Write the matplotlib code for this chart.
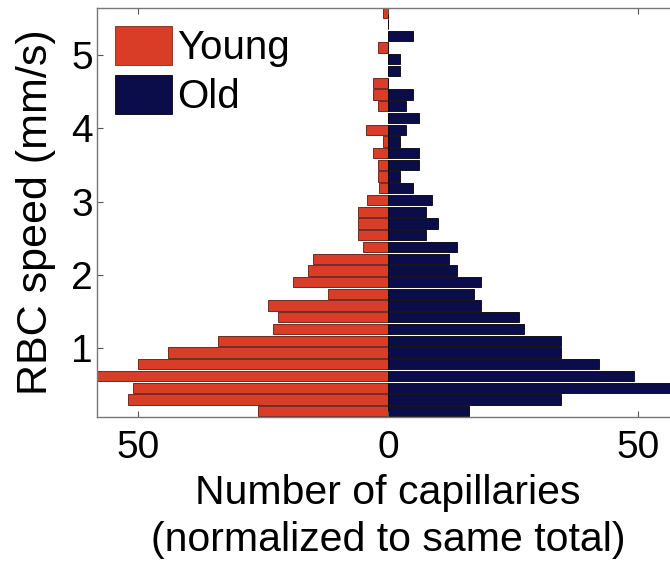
import matplotlib
matplotlib.use("Agg")
import matplotlib.pyplot as plt
from matplotlib.patches import Patch

plt.rcParams['font.family'] = ['Liberation Sans', 'DejaVu Sans']

# RBC speed bin centres (mm/s), bottom to top
speed = [0.14, 0.30, 0.46, 0.62, 0.78, 0.94, 1.10, 1.26, 1.42, 1.58,
         1.74, 1.90, 2.06, 2.22, 2.38, 2.54, 2.70, 2.86, 3.02, 3.18,
         3.34, 3.50, 3.66, 3.82, 3.98, 4.14, 4.30, 4.46, 4.62, 4.78,
         4.94, 5.10, 5.26, 5.42, 5.58]
young = [26, 52, 51, 60, 50, 44, 34, 23, 22, 24,
         12, 19, 16, 15, 5, 6, 6, 6, 4.2, 1.8,
         2, 2, 3, 1, 4.3, 0, 2, 3, 3, 0,
         0, 2, 0, 0, 1]
old = [16.2, 34.7, 58, 49.3, 42.3, 34.7, 34.7, 27.3, 26.3, 18.7,
       17.3, 18.7, 13.8, 12.2, 13.8, 7.6, 10, 7.6, 8.8, 5,
       2.4, 6.2, 6.2, 2.4, 3.7, 6.3, 3.7, 5, 0, 2.5,
       2.5, 0, 5, 0, 0]
xticks = [-50, 0, 50]
xticklabels = ['50', '0', '50']
yticks = [1, 2, 3, 4, 5]

red = '#d93c27'
navy = '#0b0c4a'

fig = plt.figure(figsize=(6.7, 5.61), dpi=100)
ax = fig.add_axes([97/670, 1-417/561, 582/670, 409/561])

h = 0.14
ax.barh(speed, [-v for v in young], height=h, color=red, edgecolor='#5a1a10', linewidth=0.6)
ax.barh(speed, old, height=h, color=navy, edgecolor='#000000', linewidth=0.6)

ax.set_xlim(-58.2, 58.2)
ax.set_ylim(0.06, 5.64)
ax.set_xticks(xticks)
ax.set_xticklabels(xticklabels)
ax.set_yticks(yticks)
ax.tick_params(direction='in', length=4, width=0.8, color='#555555',
               top=True, right=True, labelsize=28)
ax.tick_params(axis='x', pad=9)
ax.tick_params(axis='y', pad=3)
for s in ax.spines.values():
    s.set_color('#777777')
    s.set_linewidth(1.0)

ax.set_ylabel('RBC speed (mm/s)', fontsize=31)
ax.yaxis.set_label_coords(-0.07, 0.5)
ax.set_xlabel('Number of capillaries\n(normalized to same total)', fontsize=29.5,
              linespacing=1.3)
ax.xaxis.set_label_coords(0.5, -0.14)

handles = [Patch(facecolor=red, edgecolor='#7a2a1a', linewidth=0.6, label='Young'),
           Patch(facecolor=navy, edgecolor='#000000', linewidth=0.6, label='Old')]
ax.legend(handles=handles, loc='upper left', frameon=False, fontsize=29,
          handlelength=1.4, handleheight=1.1, handletextpad=0.15,
          labelspacing=0.2, borderaxespad=0.25, borderpad=0.2)

fig.savefig('out.png', dpi=100)
